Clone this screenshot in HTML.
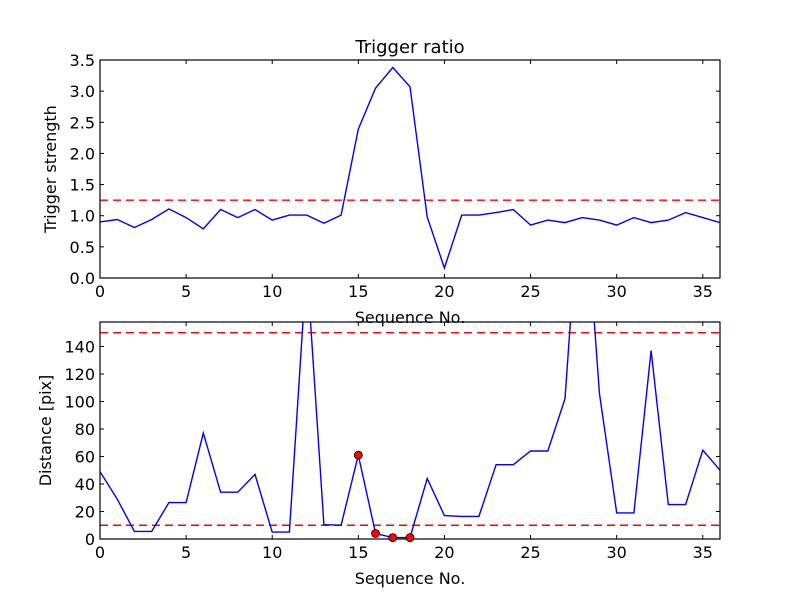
<!DOCTYPE html>
<html><head><meta charset="utf-8"><style>
html,body{margin:0;padding:0;background:#fff;}
svg text{font-family:"DejaVu Sans","Liberation Sans",sans-serif;fill:#000;}
</style></head><body>
<svg id="chart" width="800" height="600" xmlns="http://www.w3.org/2000/svg"></svg>
<script>
const seqTop = [0,1,2,3,4,5,6,7,8,9,10,11,12,13,14,15,16,17,18,19,20,21,22,23,24,25,26,27,28,29,30,31,32,33,34,35,36];
const strength = [0.9,0.94,0.81,0.94,1.11,0.97,0.79,1.1,0.97,1.1,0.93,1.01,1.01,0.88,1.01,2.39,3.05,3.38,3.07,0.98,0.16,1.01,1.01,1.05,1.1,0.85,0.93,0.89,0.97,0.93,0.85,0.97,0.89,0.93,1.05,0.97,0.89];
const strengthThreshold = 1.25;
const distance = [49,29,5.5,5.5,26.5,26.5,77,34,34,47,5,5,200,10.4,10,61,4,1,1,44,17,16.4,16.4,54,54,64,64,102,280,106,19,19,137,25,25,64.6,50];
const distThresholds = [10,150];
const markX = [15,16,17,18];
const markY = [61,4,1,1];
const xTicks = [0,5,10,15,20,25,30,35];
const yTicksTop = [0,0.5,1,1.5,2,2.5,3,3.5];
const yTicksBot = [0,20,40,60,80,100,120,140];

const NS="http://www.w3.org/2000/svg";
const svg=document.getElementById('chart');
function el(t,a,p){const e=document.createElementNS(NS,t);for(const k in a)e.setAttribute(k,a[k]);(p||svg).appendChild(e);return e;}
const L=100,R=720;
const xs=v=>L+(v/36)*(R-L);

function panel(name,top,bot,ymax,yTicks,fmt,xs_,ys_,thr,ylabel,ylx){
  const g=el('g',{});
  
  
  const ys=v=>bot-(v/ymax)*(bot-top);
  const cid='clip-'+name;
  const cp=el('clipPath',{id:cid},g);el('rect',{x:L,y:top,width:R-L,height:bot-top},cp);
  thr.forEach(t=>{
    const ln=el('line',{x1:L,x2:R,y1:ys(t),y2:ys(t),stroke:'#ff0000','stroke-width':1.4,'stroke-dasharray':'8,5','clip-path':`url(#${cid})`},g);
    
    
  });
  const pts=xs_.map((x,i)=>xs(x).toFixed(1)+','+ys(ys_[i]).toFixed(1)).join(' ');
  const pl=el('polyline',{points:pts,fill:'none',stroke:'#0000ff','stroke-width':1.4,'clip-path':`url(#${cid})`},g);
  
  
  const fr=el('rect',{x:L,y:top,width:R-L,height:bot-top,fill:'none',stroke:'#000','stroke-width':1.2},g);
  
  
  xTicks.forEach(t=>{
    const x=xs(t);
    el('line',{x1:x,x2:x,y1:bot,y2:bot-4,stroke:'#000'},g);
    el('line',{x1:x,x2:x,y1:top,y2:top+4,stroke:'#000'},g);
    const tx=el('text',{x:x,y:bot+19,'text-anchor':'middle','font-size':16},g);tx.textContent=t;
    
    
  });
  yTicks.forEach(t=>{
    const y=ys(t);
    el('line',{x1:L,x2:L+4,y1:y,y2:y,stroke:'#000'},g);
    el('line',{x1:R,x2:R-4,y1:y,y2:y,stroke:'#000'},g);
    const tx=el('text',{x:L-5,y:y+6,'text-anchor':'end','font-size':16},g);tx.textContent=fmt(t);
    
    
  });
  const xl=el('text',{x:(L+R)/2,y:bot+45,'text-anchor':'middle','font-size':16},g);xl.textContent='Sequence No.';
  
  
  const cy=(top+bot)/2;
  const yl=el('text',{x:ylx,y:cy,'text-anchor':'middle','font-size':16,transform:`rotate(-90 ${ylx} ${cy})`},g);yl.textContent=ylabel;
  
  
  return ys;
}
panel('top-panel',60,278,3.5,yTicksTop,v=>v.toFixed(1),seqTop,strength,[strengthThreshold],'Trigger strength',56);
const ysB=panel('bottom-panel',322,539,157.8,yTicksBot,v=>String(v),seqTop,distance,distThresholds,'Distance [pix]',51);
markX.forEach((x,i)=>{
  const c=el('circle',{cx:xs(x),cy:ysB(markY[i]),r:4,fill:'#ff0000',stroke:'#000','stroke-width':0.8});
  
  
});
const title=el('text',{x:410,y:53,'text-anchor':'middle','font-size':18});
title.textContent='Trigger ratio';


</script>
</body></html>
